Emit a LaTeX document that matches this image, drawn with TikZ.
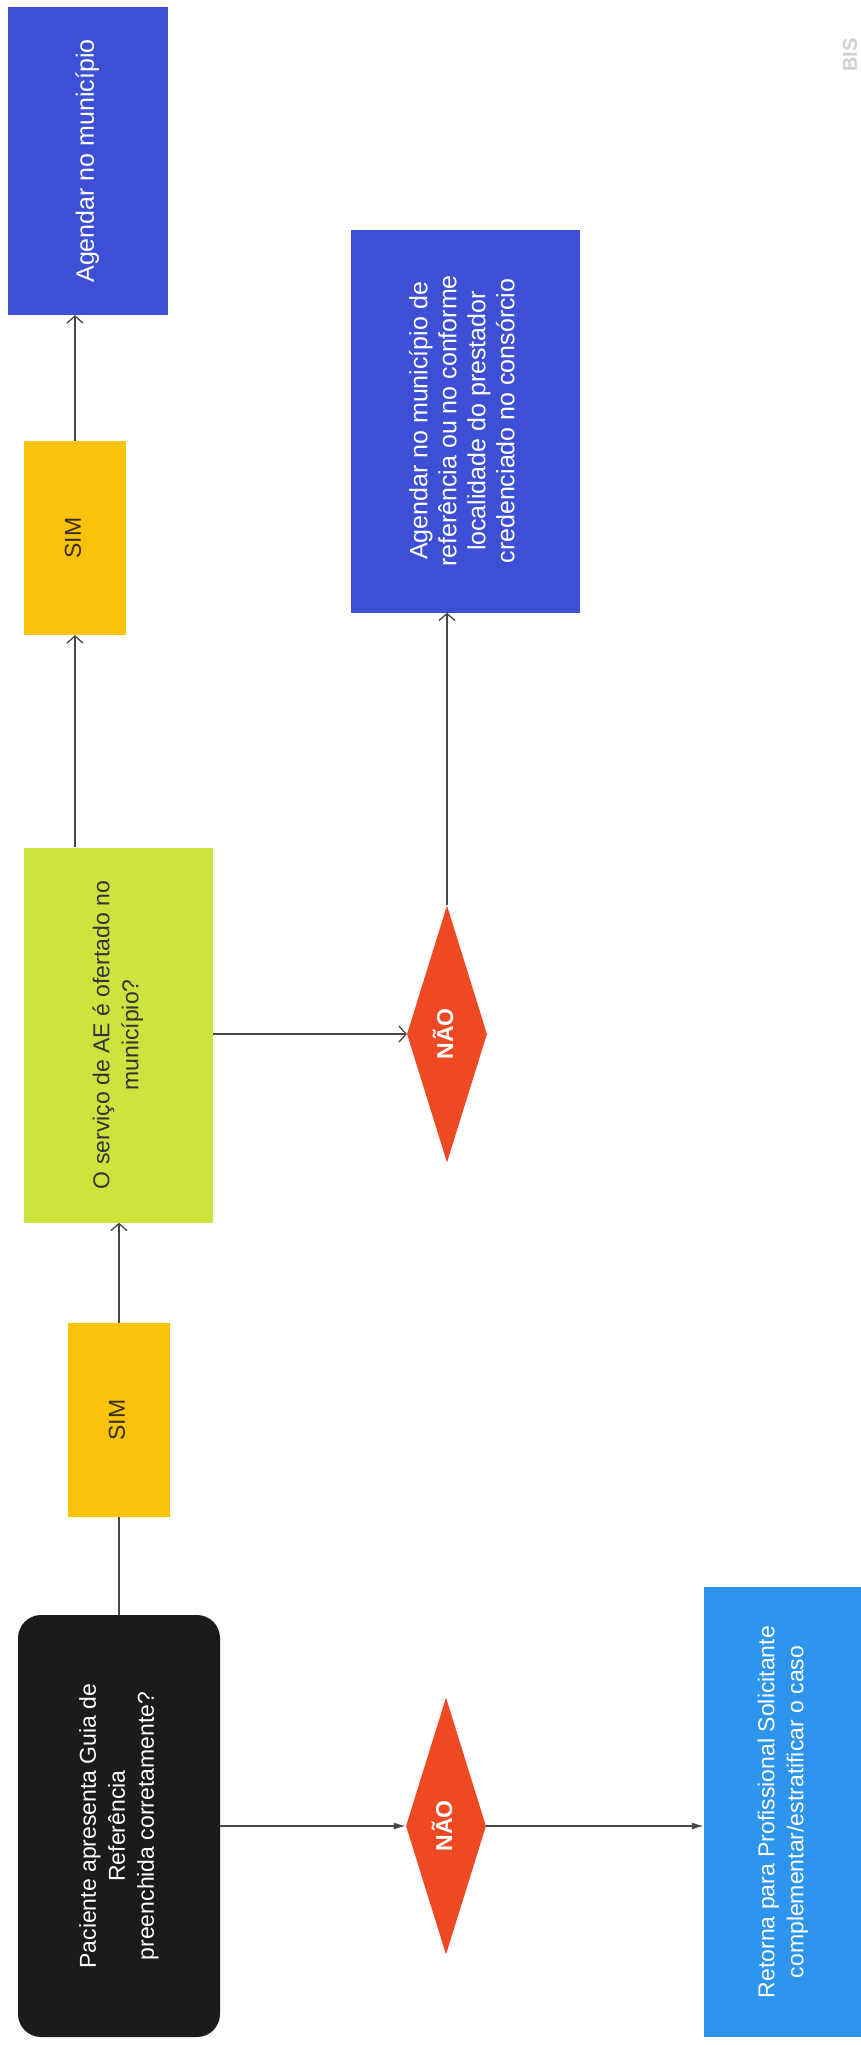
\documentclass[tikz,border=0pt]{standalone}
\usepackage{fontspec}
\setmainfont{Liberation Sans}
\usepackage{graphicx}
\usetikzlibrary{arrows.meta,shapes.geometric,positioning,calc}
\definecolor{azulagenda}{HTML}{3D50D5}
\definecolor{azulretorno}{HTML}{2E95EE}
\definecolor{amarelosim}{HTML}{F9C30C}
\definecolor{verdeservico}{HTML}{CDE43F}
\definecolor{vermelhonao}{HTML}{EF4923}
\definecolor{pretoguia}{HTML}{1B1B1B}
\definecolor{textosim}{HTML}{3B2F10}
\definecolor{linha}{HTML}{474747}
\newcommand{\vlines}[1]{\rotatebox{90}{\begin{tabular}{@{}c@{}}#1\end{tabular}}}

\begin{document}
\begin{tikzpicture}[x=1pt,y=1pt,
  caixa/.style={rectangle,inner sep=0pt,font=\fontsize{23}{29}\selectfont},
  simbox/.style={caixa,fill=amarelosim,text=textosim,minimum width=102pt,minimum height=194pt},
  azulbox/.style={caixa,fill=azulagenda,text=white,font=\fontsize{25}{29}\selectfont},
  naobox/.style={diamond,fill=vermelhonao,text=white,inner sep=0pt,minimum width=71pt,minimum height=257pt,font=\fontsize{23}{28}\selectfont\bfseries},
  seta/.style={draw=linha,line width=1.3pt,-{Straight Barb[length=7pt,width=16pt,line width=1.3pt]}},
  setacheia/.style={draw=linha,line width=1.3pt,-{Latex[length=12pt,width=7pt]}},
  liga/.style={draw=linha,line width=1.3pt}]
\useasboundingbox (0,0) rectangle (861,-2045);

\node[caixa,fill=pretoguia,text=white,rounded corners=23pt,minimum width=202pt,minimum height=422pt] (guia) at (119,-1826) {\vlines{Paciente apresenta Guia de\\Referência\\preenchida corretamente?}};
\node[simbox] (sim1) at (119,-1420) {\vlines{SIM}};
\node[caixa,fill=verdeservico,text=black!80,minimum width=189pt,minimum height=375pt] (servico) at (118,-1035) {\vlines{O serviço de AE é ofertado no\\município?}};
\node[simbox] (sim2) at (75,-538) {\vlines{SIM}};
\node[azulbox,minimum width=160pt,minimum height=308pt] (agenda1) at (88,-161) {\vlines{Agendar no município}};
\node[naobox] (nao2) at (447,-1034) {\vlines{NÃO}};
\node[azulbox,minimum width=229pt,minimum height=383pt] (agenda2) at (465,-421) {\vlines{Agendar no município de\\referência ou no conforme\\localidade do prestador\\credenciado no consórcio}};
\node[naobox] (nao1) at (446,-1826) {\vlines{NÃO}};
\node[caixa,fill=azulretorno,text=white,minimum width=158pt,minimum height=450pt] (retorno) at (783,-1812) {\vlines{Retorna para Profissional Solicitante\\complementar/estratificar o caso}};
\node[rotate=90,text=black!18,inner sep=0pt,font=\fontsize{20}{20}\selectfont\bfseries] (marca) at (850,-55) {BIS};

\draw[liga] (guia.north) -- (sim1.south);
\draw[seta] (sim1.north) -- (servico.south -| sim1.north);
\draw[seta] (servico.north -| sim2.south) -- (sim2.south);
\draw[seta] (sim2.north) -- (agenda1.south -| sim2.north);
\draw[seta] (servico.east |- nao2.west) -- (nao2.west);
\draw[seta] (nao2.north) -- (agenda2.south -| nao2.north);
\draw[setacheia] (guia.east |- nao1.west) -- (nao1.west);
\draw[setacheia] (nao1.east) -- (retorno.west |- nao1.east);
\end{tikzpicture}
\end{document}
